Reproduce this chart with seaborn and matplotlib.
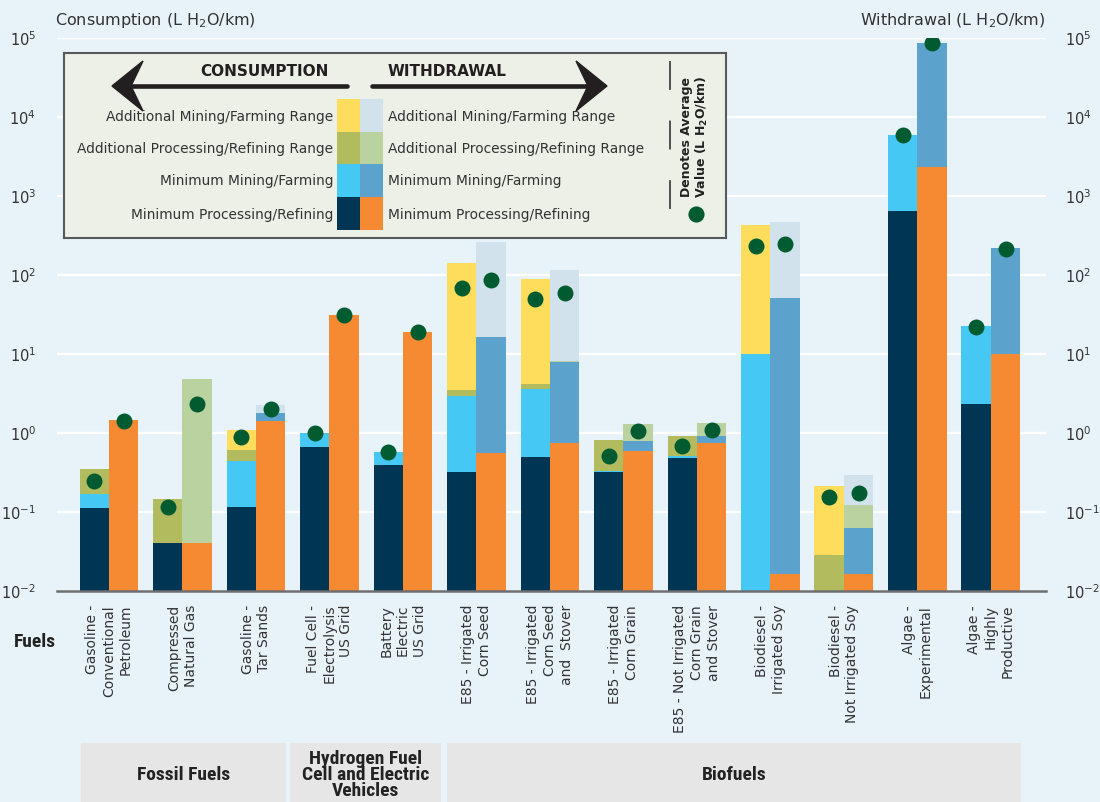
import numpy as np
import pandas as pd
import matplotlib
matplotlib.use("Agg")
import matplotlib.pyplot as plt
import matplotlib.transforms as mtransforms
from matplotlib.patches import Rectangle, Polygon
from matplotlib.ticker import LogLocator, NullLocator, FuncFormatter
import seaborn as sns

# fuel pathways (x categories)
fuels = ["Gasoline -\nConventional\nPetroleum", "Compressed\nNatural Gas", "Gasoline -\nTar Sands",
         "Fuel Cell -\nElectrolysis\nUS Grid", "Battery\nElectric\nUS Grid", "E85 - Irrigated\nCorn Seed",
         "E85 - Irrigated\nCorn Seed\nand  Stover", "E85 - Irrigated\nCorn Grain",
         "E85 - Not Irrigated\nCorn Grain\nand Stover", "Biodiesel -\nIrrigated Soy",
         "Biodiesel -\nNot Irrigated Soy", "Algae -\nExperimental", "Algae -\nHighly\nProductive"]

# top of each stacked segment (L H2O/km); 0.01 = segment absent
cons_min_proc = [0.113, 0.04, 0.115, 0.665, 0.39, 0.32, 0.497, 0.32, 0.483, 0.01, 0.01, 645, 2.33]
cons_min_mining = [0.17, 0.04, 0.44, 1.0, 0.575, 2.97, 3.57, 0.33, 0.51, 10, 0.01, 5920, 22.6]
cons_add_proc = [0.35, 0.146, 0.61, 1.0, 0.575, 3.5, 4.17, 0.815, 0.916, 10, 0.0286, 5920, 22.6]
cons_add_mining = [0.35, 0.146, 1.09, 1.0, 0.575, 142, 89, 0.815, 0.916, 430, 0.213, 5920, 22.6]

with_min_proc = [1.46, 0.04, 1.42, 31, 19, 0.553, 0.747, 0.59, 0.74, 0.0166, 0.0166, 2330, 10.1]
with_min_mining = [1.46, 0.04, 1.79, 31, 19, 16.4, 7.9, 0.79, 0.916, 51, 0.063, 86500, 220]
with_add_proc = [1.46, 4.83, 1.79, 31, 19, 16.4, 8.1, 1.3, 1.34, 51, 0.123, 86500, 220]
with_add_mining = [1.46, 4.83, 2.26, 31, 19, 262, 116, 1.3, 1.34, 469, 0.294, 86500, 220]

# average values (green dots)
cons_avg = [0.246, 0.115, 0.9, 1.0, 0.57, 69, 50, 0.507, 0.684, 233, 0.156, 5900, 22]
with_avg = [1.43, 2.3, 2.03, 31, 19, 87, 60, 1.06, 1.1, 244, 0.176, 86000, 211]

groups = ["Fossil Fuels", "Hydrogen Fuel\nCell and Electric\nVehicles", "Biofuels"]
group_edges = [(-0.38, 2.41), (2.46, 4.52), (4.6, 12.41)]

bg = "#e8f3f9"
navy, orange = "#003553", "#f58a32"
sky, steel = "#46c8f5", "#5ba3cc"
olive, sage = "#b2bc5f", "#bad2a0"
yellow, mist = "#ffdd5c", "#d1e2ec"
green = "#005c30"
txt = "#333333"

sns.set_style("white", rc={"axes.facecolor": bg, "figure.facecolor": bg})
plt.rcParams["font.family"] = ["DejaVu Sans"]
plt.rcParams["mathtext.default"] = "regular"

W, H = 1100, 802
fig = plt.figure(figsize=(11, 8.02), dpi=100)
ax = fig.add_axes([57 / W, 1 - 591 / H, 989 / W, 553 / H])

sides = ["Consumption", "Withdrawal"]
layers = [(cons_add_mining, with_add_mining, yellow, mist),
          (cons_add_proc, with_add_proc, olive, sage),
          (cons_min_mining, with_min_mining, sky, steel),
          (cons_min_proc, with_min_proc, navy, orange)]

# tallest cumulative layer first, each lower one painted over it
for cons, wd, c1, c2 in layers:
    df = pd.DataFrame({"fuel": fuels * 2,
                       "side": [sides[0]] * len(fuels) + [sides[1]] * len(fuels),
                       "top": cons + wd})
    sns.barplot(data=df, x="fuel", y="top", hue="side", order=fuels, hue_order=sides,
                palette={sides[0]: c1, sides[1]: c2}, width=0.8, gap=0, saturation=1,
                errorbar=None, linewidth=0, legend=False, ax=ax)

avg = pd.DataFrame({"fuel": fuels * 2,
                    "side": [sides[0]] * len(fuels) + [sides[1]] * len(fuels),
                    "avg": cons_avg + with_avg})
sns.stripplot(data=avg, x="fuel", y="avg", hue="side", order=fuels, hue_order=sides,
              palette={sides[0]: green, sides[1]: green}, dodge=True, jitter=False,
              size=11.5, linewidth=0, legend=False, ax=ax, zorder=5)

decade_fmt = FuncFormatter(lambda v, p: "$10^{%d}$" % round(np.log10(v)))

ax.set_yscale("log")
ax.set_ylim(0.01, 1e5)
ax.set_xlim(-0.707, 12.75)
ax.yaxis.set_major_locator(LogLocator(base=10, numticks=20))
ax.yaxis.set_minor_locator(NullLocator())
ax.yaxis.set_major_formatter(decade_fmt)
ax.tick_params(axis="y", length=0, pad=15, labelsize=10.5, labelcolor=txt)
ax.tick_params(axis="x", length=0, pad=10)
ax.set_xlabel("")
ax.set_ylabel("")
ax.grid(axis="y", color="white", lw=1.6)
ax.grid(axis="x", visible=False)
ax.set_axisbelow(True)
for s in ["left", "right", "top"]:
    ax.spines[s].set_visible(False)
ax.spines["bottom"].set_color("#6d6e71")
ax.spines["bottom"].set_linewidth(1.8)

# withdrawal scale on the right
ax2 = ax.twinx()
ax2.set_yscale("log")
ax2.set_ylim(ax.get_ylim())
ax2.yaxis.set_major_locator(LogLocator(base=10, numticks=20))
ax2.yaxis.set_minor_locator(NullLocator())
ax2.yaxis.set_major_formatter(decade_fmt)
ax2.tick_params(axis="y", length=0, pad=14, labelsize=10.5, labelcolor=txt)
ax2.grid(False)
for s in ax2.spines.values():
    s.set_visible(False)

for lbl in ax.get_xticklabels():
    lbl.set_rotation(90)
    lbl.set_va("top")
    lbl.set_ha("center")
    lbl.set_multialignment("right")
    lbl.set_fontsize(10)
    lbl.set_color(txt)
    lbl.set_linespacing(1.25)

fig.text(55 / W, 1 - 21 / H, "Consumption (L H$_2$O/km)", fontsize=11.5, color=txt, va="center", ha="left")
fig.text(1045 / W, 1 - 21 / H, "Withdrawal (L H$_2$O/km)", fontsize=11.5, color=txt, va="center", ha="right")

cond = ["DejaVu Sans Condensed", "Roboto Condensed", "Noto Sans Condensed", "Roboto"]
fig.text(35 / W, 1 - 642 / H, "Fuels", fontsize=14, fontweight="bold", family=cond,
         color="#222222", ha="center", va="center")

# category boxes under the labels
trans = mtransforms.blended_transform_factory(ax.transData, fig.transFigure)
for name, (x0, x1) in zip(groups, group_edges):
    fig.add_artist(Rectangle((x0, 0), x1 - x0, 59 / H, transform=trans,
                             facecolor="#e6e6e7", edgecolor="none", clip_on=False))
    fig.text((x0 + x1) / 2, 1 - 775 / H, name, transform=trans, fontsize=14,
             fontweight="bold", family=cond, color="#222222", ha="center", va="center",
             linespacing=0.88)

# legend panel, drawn in pixel coordinates
lax = fig.add_axes([64 / W, 1 - 238 / H, 662 / W, 185 / H])
lax.set_xlim(64, 726)
lax.set_ylim(238, 53)
lax.set_facecolor("#ecf0e6")
lax.set_xticks([])
lax.set_yticks([])
for s in lax.spines.values():
    s.set_color("#58595b")
    s.set_linewidth(1.5)

ink = "#231f20"
lax.text(329, 72, "CONSUMPTION", ha="right", va="center", fontsize=11, fontweight="bold", color=ink)
lax.text(388, 72, "WITHDRAWAL", ha="left", va="center", fontsize=11, fontweight="bold", color=ink)
lax.plot([347, 125], [86, 86], color=ink, lw=3.3, solid_capstyle="round")
lax.add_patch(Polygon([(112, 86), (143, 61), (131, 86), (143, 111)], closed=True, color=ink))
lax.plot([372, 595], [86, 86], color=ink, lw=3.3, solid_capstyle="round")
lax.add_patch(Polygon([(607, 86), (576, 61), (588, 86), (576, 111)], closed=True, color=ink))

rows = [(99, 132), (132, 164), (164, 197), (197, 230)]
labels = ["Additional Mining/Farming Range", "Additional Processing/Refining Range",
          "Minimum Mining/Farming", "Minimum Processing/Refining"]
swatches = [(yellow, mist), (olive, sage), (sky, steel), (navy, orange)]
for (y0, y1), lab, (c1, c2) in zip(rows, labels, swatches):
    lax.add_patch(Rectangle((337, y0), 23, y1 - y0, color=c1, lw=0))
    lax.add_patch(Rectangle((360, y0), 23, y1 - y0, color=c2, lw=0))
    yc = (y0 + y1) / 2 + 1
    lax.text(333, yc, lab, ha="right", va="center", fontsize=9.9, color=txt)
    lax.text(388, yc, lab, ha="left", va="center", fontsize=9.9, color=txt)

lax.plot([670, 670], [61, 238], color="#444444", lw=1.3, linestyle=(0, (16, 17)))
lax.text(695, 137, "Denotes Average\nValue (L H$_2$O/km)", rotation=90, ha="center", va="center",
         fontsize=9, fontweight="bold", color="#222222", linespacing=1.0)
lax.scatter([696], [214], s=135, color=green, linewidths=0)

fig.savefig("out.png", dpi=100, facecolor=bg)
